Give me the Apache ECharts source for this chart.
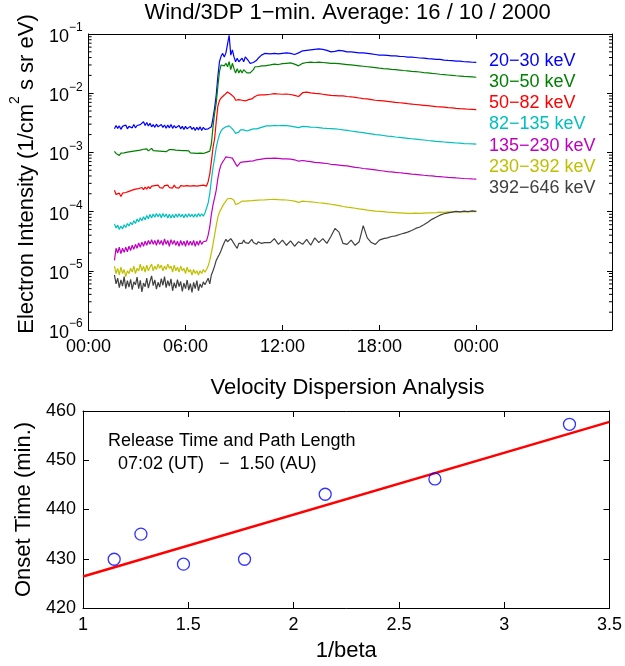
<!DOCTYPE html>
<html><head><meta charset="utf-8">
<script src="https://cdn.jsdelivr.net/npm/echarts@6/dist/echarts.min.js"></script>
<style>html,body{margin:0;padding:0;background:#fff}#c{width:625px;height:666px}</style>
</head><body><div id="c"></div>
<script>
const FONT = '"Liberation Sans", Arial, Helvetica, sans-serif';

// ---- Top panel: sample times (hours of 16 Oct 2000, UT) ----
const sampleHours = [
1.6,1.7,1.8,1.9,2.0,2.1,2.2,2.3,2.4,2.5,2.6,2.7,2.8,2.9,3.0,3.1,3.2,3.3,3.4,3.5,3.6,3.7,3.8,3.9,4.0,4.1,4.2,4.3,4.4,4.5,4.6,4.7,4.8,4.9,5.0,5.1,5.2,5.3,5.4,5.5,5.6,5.7,5.8,5.9,6.0,6.1,6.2,6.3,6.4,6.5,6.6,6.7,6.8,6.9,7.0,7.1,7.2,
7.3,7.4,7.5,7.6,7.7,7.8,7.9,8.0,8.1,8.2,8.3,8.4,8.5,8.6,8.7,8.8,8.9,9.0,9.1,9.2,9.3,9.4,9.5,9.6,9.7,9.8,9.9,10.0,10.1,10.2,10.3,10.4,10.5,10.6,10.7,10.8,10.9,11.0,
11.25,11.5,11.75,12,12.25,12.5,12.75,13,13.25,13.5,13.75,14,14.25,14.5,14.75,15,15.25,15.5,15.75,16,16.25,16.5,16.75,17,17.25,17.5,17.75,18,18.25,18.5,18.75,19,19.25,19.5,19.75,20,20.25,20.5,20.75,21,21.25,21.5,21.75,22,22.25,22.5,22.75,23,23.25,23.5,23.75,24];

// Electron intensities, each channel stored in its own unit (see channelUnits)
const ch20_30 = [ // x1e-3
2.5,2.85,2.55,2.8,2.45,2.75,2.55,2.9,2.5,2.75,2.9,2.6,2.95,2.6,2.85,2.65,2.95,3.05,3.3,2.85,3.2,2.8,3.1,2.7,2.95,2.65,3.0,2.7,2.6,2.95,2.65,2.9,2.55,2.9,2.6,2.95,2.55,2.85,2.6,2.5,2.85,2.5,2.75,2.45,2.75,2.5,2.4,2.75,2.45,2.65,2.35,2.65,2.4,2.7,2.35,2.65,2.45,
2.6,2.5,2.55,2.7,3.8,5.6,9.3,19,34,42,47,41,48,47,95,44,54,41,34,39,34,32,39,34,41,42,35,32,32,33,34,36,39,41,44,46,47,46,
46,47,46,47,48,47,45,48,52,53,54,55,56,55,53,50,51,53,52,50,50,49,48,48,47,46,45,44,43.8,43.6,42.7,42.6,41.8,41.7,40.8,40.7,40.1,39.3,39.2,38.3,38.1,37.3,37.2,36.3,35.9,35.6,34.8,34.7,34.0,33.9,33.3,33.2];
const ch30_50 = [ // x1e-3
1.04,0.96,0.97,0.89,0.97,0.91,0.98,0.93,1.01,0.95,1.03,0.96,1.05,0.98,1.07,1.01,1.09,1.03,1.13,1.05,1.15,1.06,1.13,1.17,1.07,1.14,1.06,1.13,1.05,1.12,1.04,1.11,1.03,1.1,1.12,1.04,1.11,1.03,1.09,1.02,1.08,1.01,1.07,1.0,1.07,0.99,1.06,0.98,1.05,0.97,1.04,0.96,1.03,0.97,1.04,0.96,1.03,
1.0,1.03,1.05,1.4,2.7,4.6,6.8,13,23,30,32,29,32,28,34,25,32,26,22,26,22,25,22,25,27,22,23,22,23,25,28,29,28,30,29,30,29,30,
30,31,30.5,31.5,32,32.5,31,29,32,33,33.5,33,33.5,33,32.5,32,32,31.5,31,30.5,30,29.5,29,28.5,28,27.5,27,26.5,26.1,25.8,25.3,25.0,24.6,24.2,23.9,23.4,23.1,22.8,22.3,22.0,21.6,21.3,20.9,20.6,20.3,20.0,19.7,19.5,19.2,19.0,18.8,18.6];
const ch50_82 = [ // x1e-4
2.3,1.95,1.85,2.05,1.8,2.05,1.9,2.1,1.95,2.2,2.05,2.3,2.15,2.4,2.25,2.45,2.3,2.55,2.35,2.6,2.4,2.65,2.45,2.7,2.5,2.75,2.55,2.8,2.55,2.75,2.5,2.75,2.55,2.8,2.55,2.75,2.5,2.8,2.55,2.75,2.5,2.75,2.55,2.7,2.5,2.75,2.55,2.7,2.5,2.75,2.55,2.7,2.5,2.75,2.55,2.8,2.6,
2.7,3.2,4.3,7.0,12,17,33,60,75,83,88,93,98,105,100,96,90,86,76,72,78,82,76,80,74,72,78,82,80,84,88,90,93,95,94,96,94,95,
96,98,97,96,97,95,92,88,102,104,101,99,98,96,94,92,91,90,90,88,87,85,83,81,80,78,76,75,74,72.5,71.5,70,69,68,66.5,65.5,64.5,63.5,62.5,61.5,60.5,59.5,58.8,58,57,56.3,55.5,54.8,54.2,53.6,53.2,52.8];
const ch82_135 = [ // x1e-5
6.2,5.3,5.9,5.0,5.7,5.1,6.0,5.4,6.3,5.7,6.6,6.0,7.0,6.3,7.5,6.7,7.9,7.0,8.2,7.3,8.6,7.6,8.9,7.8,9.1,8.0,9.3,8.2,9.2,7.9,9.3,8.1,9.1,7.8,9.0,7.8,8.9,7.9,9.1,8.0,9.2,8.1,9.0,7.9,9.1,8.0,9.2,8.2,9.0,8.0,9.1,8.1,9.3,8.3,9.2,8.4,9.4,
10,14,20,34,55,80,120,160,200,230,250,260,270,290,280,260,250,230,210,200,220,240,230,240,250,230,240,240,230,250,240,250,250,260,260,270,270,280,
280,285,282,285,283,278,270,262,275,272,268,266,262,258,255,253,250,246,240,235,230,225,220,216,210,205,200,197,193,189,186,182,179,176,173,170,167,164,162,159,157,154,152,150,148,146,144,143,141,140,139,138];
const ch135_230 = [ // x1e-5
1.5,2.4,2.0,2.5,1.95,2.4,2.05,2.5,2.1,2.6,2.2,2.7,2.3,2.8,2.4,2.95,2.5,3.05,2.6,3.15,2.7,3.25,2.8,3.35,2.8,3.25,2.7,3.35,2.8,3.25,2.7,3.45,2.8,3.25,2.6,3.35,2.8,3.25,2.7,3.15,2.6,3.25,2.7,3.15,2.6,3.25,2.7,3.15,2.7,3.25,2.6,3.15,2.7,3.25,2.8,3.1,3.2,
3.2,4.0,5.5,9.0,13,17,23,36,50,62,69,76,84,86,82,84,80,78,64,58,62,68,70,69,71,70,72,71,73,72,74,75,74,76,77,78,77,79,
79,80,79,78,78,77,75,71,73,71,70,68,67,66,65,63,62,61,60,59,57.5,56,55,53.5,52.5,51.5,50.5,49.5,48.5,47.5,46.8,46,45.3,44.5,43.8,43,42.4,41.8,41.1,40.5,40,39.4,38.9,38.4,37.9,37.5,37,36.6,36.2,35.9,35.6,35.4];
const ch230_392 = [ // x1e-6
12,9,11,8.5,11.5,9,10.5,8,10,9,11,9.5,12,9,11,10,13,10,12,9.5,12.5,10,11.5,13,10,12,10.5,13,11,12.5,10,12,10.5,13,11,12,9.5,12.5,10,11.5,9.5,12,10,11,9,11.5,9.5,10.5,8.5,10.5,9,10,8.5,10,9,10.5,9.5,
10.5,12,15,20,28,40,58,80,98,110,125,138,150,165,170,168,162,155,132,128,138,148,150,152,150,153,152,155,153,156,155,157,156,158,157,160,158,160,
160,161,159,158,157,154,150,143,150,148,146,144,141,139,136,133,130,126,122,119,117,114,111,109,106,104,102,101,100,98,97,96,95,94,93,93,94,93,94,95,95,96,98,97,99,98,100,99,100,99,101,100];
const ch392_646 = [ // x1e-6
8.5,6.0,7.5,5.2,7.0,5.5,8.0,5.0,6.8,5.3,7.2,4.8,6.5,5.8,7.8,5.0,6.9,4.4,6.2,5.4,7.5,5.1,6.6,8.2,5.6,7.0,4.9,6.4,5.3,7.4,5.7,8.0,5.2,6.8,5.5,7.3,4.6,6.3,5.1,7.1,5.4,6.6,4.5,6.2,5.0,7.0,4.7,6.1,4.3,6.4,5.0,6.8,4.6,6.0,5.2,6.5,5.8,
5.5,7.5,6.0,8.5,10,12,15,17,19,22,26,30,34,31,33,35,32,33,26,24,29,31,29,33,30,32,29,31,34,30,32,28,31,33,29,31,30,32,
30,35,28,33,27,32,26,31,28,34,27,36,30,35,29,38,52,45,29,28,33,27,31,58,36,30,28,33,35,36,38,39,41,43,45,48,52,55,60,66,74,80,87,92,95,98,101,99,102,100,103,101];

const channelNames = ['20−30 keV','30−50 keV','50−82 keV','82−135 keV','135−230 keV','230−392 keV','392−646 keV'];
const channelColors = ['#0000ff','#008000','#ff0000','#00bfbf','#bf00bf','#bfbf00','#404040'];
const channelUnits = [1e-3,1e-3,1e-4,1e-5,1e-5,1e-6,1e-6];
const channelValues = [ch20_30,ch30_50,ch50_82,ch82_135,ch135_230,ch230_392,ch392_646];

const xTickHours = [0,6,12,18,24];

// ---- Bottom panel ----
const invBeta = [1.148,1.275,1.477,1.767,2.150,2.671,3.310];
const onsetMin = [429.9,435.0,428.9,429.9,443.1,446.2,457.3];
const fitInvBeta = [1, 3.5];
const fitOnset = [426.4, 457.8];

// minor tick positions of the log axis (2..9 x 10^k)
const minorTicks = [];
for (let k = -6; k <= -2; k++) for (let m = 2; m <= 9; m++) minorTicks.push(m * Math.pow(10, k));

const black = '#000';
const axLine = {show: true, onZero: false, lineStyle: {color: black, width: 1}};
const tickSt = {color: black, width: 1};
const hourFmt = v => String(v % 24).padStart(2, '0') + ':00';
const expFmt = v => { const e = Math.round(Math.log10(v)); return '{b|10}{e|' + (e < 0 ? '−' : '') + Math.abs(e) + '}'; };

const chart = echarts.init(document.getElementById('c'), null, {renderer: 'canvas'});
const option = {
  animation: false,
  backgroundColor: '#fff',
  textStyle: {fontFamily: FONT},
  title: [
    {text: 'Wind/3DP 1−min. Average: 16 / 10 / 2000', left: 347.5, top: 2, textAlign: 'center', padding: 0,
     textStyle: {fontSize: 22, fontWeight: 'normal', color: black, fontFamily: FONT}},
    {text: 'Velocity Dispersion Analysis', left: 347.5, top: 377, textAlign: 'center', padding: 0,
     textStyle: {fontSize: 22, fontWeight: 'normal', color: black, fontFamily: FONT}}
  ],
  grid: [
    {left: 83, right: 13, top: 34, height: 296},
    {left: 83, right: 13, top: 411, height: 197}
  ],
  xAxis: [
    {gridIndex: 0, type: 'value', min: 0, max: 32.4, position: 'bottom', axisLine: axLine,
     axisTick: {inside: true, length: 5, customValues: xTickHours, lineStyle: tickSt},
     axisLabel: {customValues: xTickHours, formatter: hourFmt, fontSize: 18, color: black, margin: 8, fontFamily: FONT},
     splitLine: {show: false}},
    {gridIndex: 0, type: 'value', min: 0, max: 32.4, position: 'top', axisLine: axLine,
     axisTick: {inside: true, length: 5, customValues: xTickHours, lineStyle: tickSt},
     axisLabel: {show: false}, splitLine: {show: false}},
    {gridIndex: 1, type: 'value', min: 1, max: 3.5, interval: 0.5, position: 'bottom', axisLine: axLine,
     name: '1/beta', nameLocation: 'middle', nameGap: 32,
     nameTextStyle: {fontSize: 22, color: black, fontFamily: FONT},
     axisTick: {inside: true, length: 6, lineStyle: tickSt},
     axisLabel: {fontSize: 18, color: black, margin: 8, fontFamily: FONT}, splitLine: {show: false}},
    {gridIndex: 1, type: 'value', min: 1, max: 3.5, interval: 0.5, position: 'top', axisLine: axLine,
     axisTick: {inside: true, length: 6, lineStyle: tickSt}, axisLabel: {show: false}, splitLine: {show: false}}
  ],
  yAxis: [
    {gridIndex: 0, type: 'log', logBase: 10, min: 1e-6, max: 1e-1, splitNumber: 5, position: 'left', axisLine: axLine,
     name: '{n|Electron Intensity (1/cm}{s|2}{n| s sr eV)}', nameLocation: 'middle', nameGap: 46,
     nameTextStyle: {fontSize: 22, color: black, fontFamily: FONT, padding: [0, 0, 0, 16],
       rich: {n: {fontSize: 22, lineHeight: 30, color: black, fontFamily: FONT, verticalAlign: 'bottom'},
              s: {fontSize: 14, lineHeight: 14, color: black, fontFamily: FONT, verticalAlign: 'top'}}},
     axisTick: {inside: true, length: 5, lineStyle: tickSt},
     axisLabel: {formatter: expFmt, margin: 6,
       rich: {b: {fontSize: 18, lineHeight: 24, color: black, fontFamily: FONT, verticalAlign: 'bottom'},
              e: {fontSize: 12, lineHeight: 12, color: black, fontFamily: FONT, verticalAlign: 'top'}}},
     splitLine: {show: false}},
    {gridIndex: 0, type: 'log', logBase: 10, min: 1e-6, max: 1e-1, splitNumber: 5, position: 'right', axisLine: axLine,
     axisTick: {inside: true, length: 5, lineStyle: tickSt}, axisLabel: {show: false}, splitLine: {show: false}},
    {gridIndex: 1, type: 'value', min: 420, max: 460, interval: 10, position: 'left', axisLine: axLine,
     name: 'Onset Time (min.)', nameLocation: 'middle', nameGap: 46,
     nameTextStyle: {fontSize: 22, color: black, fontFamily: FONT},
     axisTick: {inside: true, length: 6, lineStyle: tickSt},
     axisLabel: {fontSize: 18, color: black, margin: 7, fontFamily: FONT}, splitLine: {show: false}},
    {gridIndex: 1, type: 'value', min: 420, max: 460, interval: 10, position: 'right', axisLine: axLine,
     axisTick: {inside: true, length: 6, lineStyle: tickSt}, axisLabel: {show: false}, splitLine: {show: false}}
  ],
  legend: {
    orient: 'vertical', left: 484, top: 50, itemWidth: 0, itemHeight: 0, itemGap: 0, icon: 'none',
    selectedMode: false, padding: 0,
    textStyle: {fontSize: 18, lineHeight: 21.27, fontFamily: FONT},
    data: channelNames.map((n, i) => ({name: n, icon: 'none', textStyle: {color: channelColors[i]}}))
  },
  graphic: [
    {type: 'text', left: 108, top: 432, silent: true,
     style: {text: 'Release Time and Path Length', font: '18px ' + FONT, fill: black}},
    {type: 'text', left: 118, top: 455, silent: true,
     style: {text: '07:02 (UT)   −  1.50 (AU)', font: '18px ' + FONT, fill: black}}
  ],
  series: [
    ...channelValues.map((vals, k) => ({
      type: 'line', name: channelNames[k], xAxisIndex: 0, yAxisIndex: 0,
      data: sampleHours.map((t, i) => [t, vals[i] * channelUnits[k]]),
      showSymbol: false, symbol: 'none', silent: true,
      lineStyle: {color: channelColors[k], width: 1.2}, itemStyle: {color: channelColors[k]}
    })),
    {type: 'custom', name: 'minorTicks', xAxisIndex: 0, yAxisIndex: 0, silent: true, clip: false, z: 5,
     data: minorTicks.map(v => [0, v]), encode: {x: 0, y: 1},
     renderItem: (params, api) => {
       const v = api.value(1);
       const l = api.coord([0, v]);
       const r = api.coord([32.4, v]);
       return {type: 'group', children: [
         {type: 'line', shape: {x1: l[0], y1: l[1], x2: l[0] + 3, y2: l[1]}, style: {stroke: black, lineWidth: 1}},
         {type: 'line', shape: {x1: r[0], y1: r[1], x2: r[0] - 3, y2: r[1]}, style: {stroke: black, lineWidth: 1}}
       ]};
     }},
    {type: 'line', name: 'fit', xAxisIndex: 2, yAxisIndex: 2, silent: true, z: 2,
     data: fitInvBeta.map((x, i) => [x, fitOnset[i]]), showSymbol: false, symbol: 'none',
     lineStyle: {color: '#ff0000', width: 2.5}},
    {type: 'scatter', name: 'onsets', xAxisIndex: 2, yAxisIndex: 2, silent: true, z: 3,
     data: invBeta.map((x, i) => [x, onsetMin[i]]), symbol: 'circle', symbolSize: 12,
     itemStyle: {color: 'rgba(0,0,0,0)', borderColor: '#0000ff', borderWidth: 1.3}}
  ]
};
chart.setOption(option);
</script></body></html>
